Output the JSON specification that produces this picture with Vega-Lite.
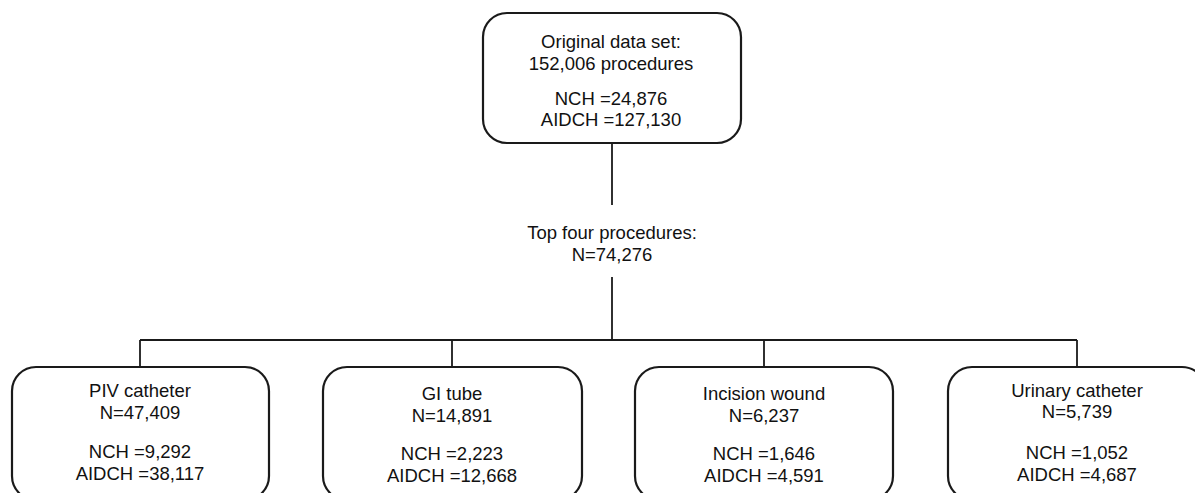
{
  "$schema": "https://vega.github.io/schema/vega-lite/v6.json",
  "width": 1195,
  "height": 493,
  "autosize": {"type": "fit", "contains": "padding"},
  "padding": 0,
  "background": "white",
  "config": {"view": {"stroke": null}},
  "datasets": {
    "boxes": [
      {"node": "Original data set", "left": 483, "right": 741, "top": 13, "bottom": 143},
      {"node": "PIV catheter", "left": 12, "right": 269, "top": 367, "bottom": 500},
      {"node": "GI tube", "left": 323, "right": 582, "top": 367, "bottom": 500},
      {"node": "Incision wound", "left": 635, "right": 893, "top": 367, "bottom": 500},
      {"node": "Urinary catheter", "left": 948, "right": 1206, "top": 367, "bottom": 500}
    ],
    "links": [
      {"from_x": 612, "to_x": 612, "from_y": 143, "to_y": 205},
      {"from_x": 612, "to_x": 612, "from_y": 277, "to_y": 340},
      {"from_x": 140, "to_x": 1077, "from_y": 340, "to_y": 340},
      {"from_x": 140, "to_x": 140, "from_y": 340, "to_y": 367},
      {"from_x": 452, "to_x": 452, "from_y": 340, "to_y": 367},
      {"from_x": 764, "to_x": 764, "from_y": 340, "to_y": 367},
      {"from_x": 1077, "to_x": 1077, "from_y": 340, "to_y": 367}
    ],
    "labels": [
      {"label": "Original data set:", "cx": 611, "base": 48},
      {"label": "152,006 procedures", "cx": 611, "base": 70},
      {"label": "NCH =24,876", "cx": 611, "base": 105},
      {"label": "AIDCH =127,130", "cx": 611, "base": 126},
      {"label": "Top four procedures:", "cx": 612, "base": 239},
      {"label": "N=74,276", "cx": 612, "base": 261},
      {"label": "PIV catheter", "cx": 140, "base": 397},
      {"label": "N=47,409", "cx": 140, "base": 419},
      {"label": "NCH =9,292", "cx": 140, "base": 458},
      {"label": "AIDCH =38,117", "cx": 140, "base": 480},
      {"label": "GI tube", "cx": 452, "base": 400},
      {"label": "N=14,891", "cx": 452, "base": 422},
      {"label": "NCH =2,223", "cx": 452, "base": 460},
      {"label": "AIDCH =12,668", "cx": 452, "base": 482},
      {"label": "Incision wound", "cx": 764, "base": 400},
      {"label": "N=6,237", "cx": 764, "base": 422},
      {"label": "NCH =1,646", "cx": 764, "base": 460},
      {"label": "AIDCH =4,591", "cx": 764, "base": 482},
      {"label": "Urinary catheter", "cx": 1077, "base": 397},
      {"label": "N=5,739", "cx": 1077, "base": 418},
      {"label": "NCH =1,052", "cx": 1077, "base": 459},
      {"label": "AIDCH =4,687", "cx": 1077, "base": 481}
    ]
  },
  "layer": [
    {
      "data": {"name": "links"},
      "mark": {"type": "rule", "stroke": "#1a1a1a", "strokeWidth": 1.8},
      "encoding": {
        "x": {"field": "from_x", "type": "quantitative", "axis": null, "scale": {"domain": [0, 1195], "nice": false, "zero": false}},
        "x2": {"field": "to_x"},
        "y": {"field": "from_y", "type": "quantitative", "axis": null, "scale": {"domain": [0, 493], "nice": false, "zero": false, "reverse": true}},
        "y2": {"field": "to_y"}
      }
    },
    {
      "data": {"name": "boxes"},
      "mark": {"type": "rect", "fill": "white", "stroke": "#1a1a1a", "strokeWidth": 2.2, "cornerRadius": 24, "clip": true},
      "encoding": {
        "x": {"field": "left", "type": "quantitative", "axis": null, "scale": {"domain": [0, 1195], "nice": false, "zero": false}},
        "x2": {"field": "right"},
        "y": {"field": "top", "type": "quantitative", "axis": null, "scale": {"domain": [0, 493], "nice": false, "zero": false, "reverse": true}},
        "y2": {"field": "bottom"}
      }
    },
    {
      "data": {"name": "labels"},
      "mark": {"type": "text", "font": "Liberation Sans", "fontSize": 18.5, "align": "center", "baseline": "alphabetic", "color": "#111111"},
      "encoding": {
        "x": {"field": "cx", "type": "quantitative", "axis": null, "scale": {"domain": [0, 1195], "nice": false, "zero": false}},
        "y": {"field": "base", "type": "quantitative", "axis": null, "scale": {"domain": [0, 493], "nice": false, "zero": false, "reverse": true}},
        "text": {"field": "label", "type": "nominal"}
      }
    }
  ]
}
